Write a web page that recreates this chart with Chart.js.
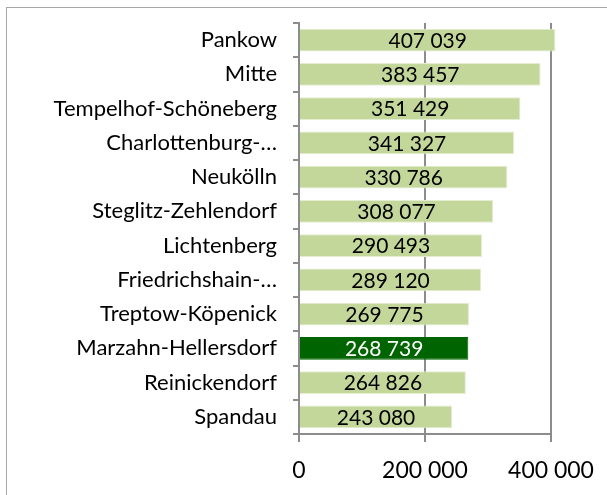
<!DOCTYPE html>
<html>
<head>
<meta charset="utf-8">
<script src="https://cdn.jsdelivr.net/npm/chart.js@4"></script>
<style>
  html, body { margin: 0; padding: 0; background: #fff; overflow: hidden; }
  #wrap { position: relative; width: 607px; height: 495px; }
  #frame { position: absolute; left: 6px; top: 7px; width: 700px; height: 600px; border: 1px solid #a6a6a6; }
  canvas { position: absolute; left: 0; top: 0; }
</style>
</head>
<body>
<div id="wrap">
  <div id="frame"></div>
  <canvas id="myChart"></canvas>
</div>
<script>
var districts = ["Pankow", "Mitte", "Tempelhof-Schöneberg", "Charlottenburg-…", "Neukölln",
    "Steglitz-Zehlendorf", "Lichtenberg", "Friedrichshain-…", "Treptow-Köpenick",
    "Marzahn-Hellersdorf", "Reinickendorf", "Spandau"];
var population = [407039, 383457, 351429, 341327, 330786, 308077, 290493, 289120, 269775, 268739, 264826, 243080];
var xTicks = [0, 200000, 400000];
var highlight = "Marzahn-Hellersdorf";

const fmt = (v) => String(v).replace(/\B(?=(\d{3})+(?!\d))/g, " ")
const lightGreen = "#c4d79b"
const darkGreen = "#006400"
const axisGray = "#8c8c8c"

let fills = districts.map(d => d == highlight ? darkGreen : lightGreen)
let edges = districts.map(d => d == highlight ? darkGreen : "#e4ecd2")

// scales ask for room for their labels; we pin the plot area ourselves
const noPad = (scale) => {
    scale.paddingTop = 0
    scale.paddingBottom = 0
    scale.paddingLeft = 0
    scale.paddingRight = 0
}

const valueLabels = {
    id: "valueLabels",
    afterDatasetsDraw(chart) {
        const ctx = chart.ctx
        const meta = chart.getDatasetMeta(0)
        ctx.save()
        ctx.font = "21px Lato"
        ctx.textAlign = "center"
        ctx.textBaseline = "middle"
        meta.data.forEach((bar, i) => {
            ctx.fillStyle = districts[i] == highlight ? "#ffffff" : "#000000"
            ctx.fillText(fmt(population[i]), (bar.base + bar.x) / 2, bar.y + 1)
        })
        ctx.restore()
    }
}

new Chart("myChart", {
    type: "bar",
    data: {
        labels: districts,
        datasets: [{
            data: population,
            backgroundColor: fills,
            borderColor: edges,
            borderWidth: 1,
            barPercentage: 0.67,
            categoryPercentage: 1,
            clip: false
        }]
    },
    options: {
        indexAxis: "y",
        responsive: true,
        maintainAspectRatio: false,
        animation: false,
        layout: { padding: { top: 23, right: 56, left: 0, bottom: 0 } },
        plugins: { legend: { display: false }, tooltip: { enabled: false } },
        scales: {
            x: {
                min: 0,
                max: 400000,
                afterBuildTicks: (scale) => { scale.ticks = xTicks.map(v => ({ value: v })) },
                afterFit: (scale) => { scale.height = 61; noPad(scale) },
                border: { color: axisGray, width: 2 },
                grid: { color: axisGray, lineWidth: 2, tickLength: 8 },
                ticks: {
                    font: { family: "Lato", size: 23 },
                    color: "#000",
                    padding: 15,
                    maxRotation: 0,
                    callback: (v) => fmt(v)
                }
            },
            y: {
                afterFit: (scale) => { scale.width = 299; noPad(scale) },
                border: { color: axisGray, width: 2 },
                grid: { color: axisGray, lineWidth: 2, offset: true, drawOnChartArea: false, tickLength: 6 },
                ticks: {
                    font: { family: "Lato", size: 22 },
                    color: "#000",
                    padding: 16
                }
            }
        }
    },
    plugins: [valueLabels]
});
</script>
</body>
</html>
